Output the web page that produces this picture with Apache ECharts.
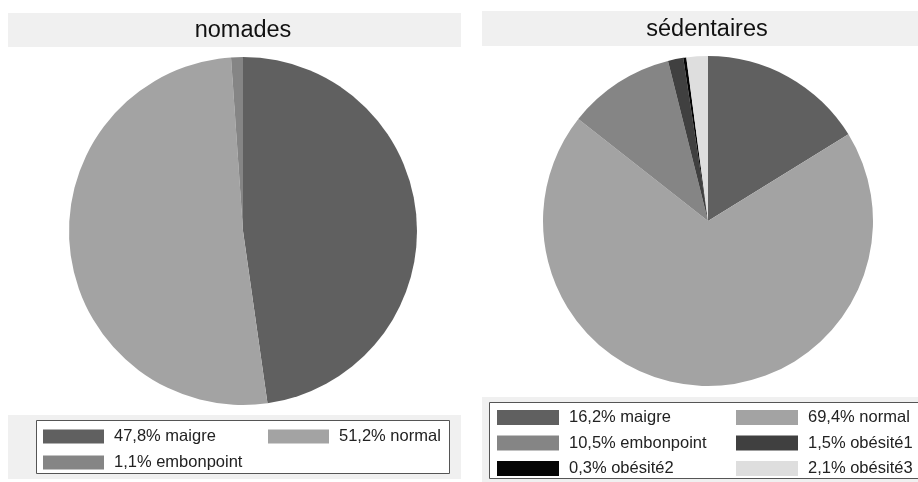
<!DOCTYPE html>
<html>
<head>
<meta charset="utf-8">
<script src="https://cdn.jsdelivr.net/npm/echarts@6/dist/echarts.min.js"></script>
<style>
  html, body { margin: 0; padding: 0; background: #fff; }
  #chart { width: 918px; height: 482px; }
</style>
</head>
<body>
<div id="chart"></div>
<script>
// Categories and shares (%) for each group
const nomadesCategories = ['maigre', 'normal', 'embonpoint'];
const nomadesValues = [47.8, 51.2, 1.1];

const sedentairesCategories = ['maigre', 'normal', 'embonpoint', 'obésité1', 'obésité2', 'obésité3'];
const sedentairesValues = [16.2, 69.4, 10.5, 1.5, 0.3, 2.1];

const panelTitles = ['nomades', 'sédentaires'];

// Grey shade for each category
const categoryColors = {
  'maigre': '#606060',
  'normal': '#a3a3a3',
  'embonpoint': '#858585',
  'obésité1': '#404040',
  'obésité2': '#050505',
  'obésité3': '#dedede'
};

const FONT = '"Liberation Sans", Arial, Helvetica, sans-serif';

function label(cat, v) {
  return v.toFixed(1).replace('.', ',') + '% ' + cat;
}

function pieData(cats, vals) {
  return cats.map((c, i) => ({
    name: label(c, vals[i]),
    value: vals[i],
    itemStyle: { color: categoryColors[c] }
  }));
}

const nomData = pieData(nomadesCategories, nomadesValues);
const sedData = pieData(sedentairesCategories, sedentairesValues);

function legendBlock(names, left, top, gap, w, h) {
  return {
    orient: 'vertical',
    left: left,
    top: top,
    data: names,
    itemWidth: w,
    itemHeight: h,
    itemGap: gap,
    icon: 'rect',
    selectedMode: false,
    padding: 0,
    textStyle: {
      fontFamily: FONT,
      fontSize: 16.5,
      color: '#222',
      lineHeight: h,
      padding: [0, 0, 0, 5]
    }
  };
}

const chart = echarts.init(document.getElementById('chart'), null, { renderer: 'canvas' });

chart.setOption({
  animation: false,
  backgroundColor: '#fff',
  graphic: [
    // title bands
    { type: 'rect', shape: { x: 8, y: 13, width: 453, height: 34 }, style: { fill: '#f0f0f0' }, z: -10 },
    { type: 'rect', shape: { x: 482, y: 11, width: 436, height: 35 }, style: { fill: '#f0f0f0' }, z: -10 },
    { type: 'text', x: 243, y: 31, style: { text: panelTitles[0], font: '23.5px ' + FONT, fill: '#111', align: 'center', verticalAlign: 'middle' } },
    { type: 'text', x: 707, y: 30, style: { text: panelTitles[1], font: '23.5px ' + FONT, fill: '#111', align: 'center', verticalAlign: 'middle' } },
    // legend bands
    { type: 'rect', shape: { x: 8, y: 415, width: 453, height: 64 }, style: { fill: '#f0f0f0' }, z: -10 },
    { type: 'rect', shape: { x: 482, y: 397, width: 436, height: 85 }, style: { fill: '#f0f0f0' }, z: -10 },
    // legend frames
    { type: 'rect', shape: { x: 36.5, y: 420.5, width: 413, height: 53 }, style: { fill: '#fff', stroke: '#555', lineWidth: 1 }, z: -5 },
    { type: 'rect', shape: { x: 489.5, y: 402.5, width: 440, height: 76 }, style: { fill: '#fff', stroke: '#555', lineWidth: 1 }, z: -5 }
  ],
  legend: [
    legendBlock([nomData[0].name, nomData[2].name], 43, 428, 9, 61, 14),
    legendBlock([nomData[1].name], 268, 428, 9, 61, 14),
    legendBlock([sedData[0].name, sedData[2].name, sedData[4].name], 497, 409, 8.5, 62, 15),
    legendBlock([sedData[1].name, sedData[3].name, sedData[5].name], 736, 409, 8.5, 62, 15)
  ],
  series: [
    {
      type: 'pie',
      center: [243, 231],
      radius: 174,
      startAngle: 90,
      clockwise: true,
      label: { show: false },
      labelLine: { show: false },
      emphasis: { disabled: true },
      itemStyle: { borderWidth: 0 },
      data: nomData
    },
    {
      type: 'pie',
      center: [708, 221],
      radius: 165,
      startAngle: 90,
      clockwise: true,
      label: { show: false },
      labelLine: { show: false },
      emphasis: { disabled: true },
      itemStyle: { borderWidth: 0 },
      data: sedData
    }
  ]
});
</script>
</body>
</html>
